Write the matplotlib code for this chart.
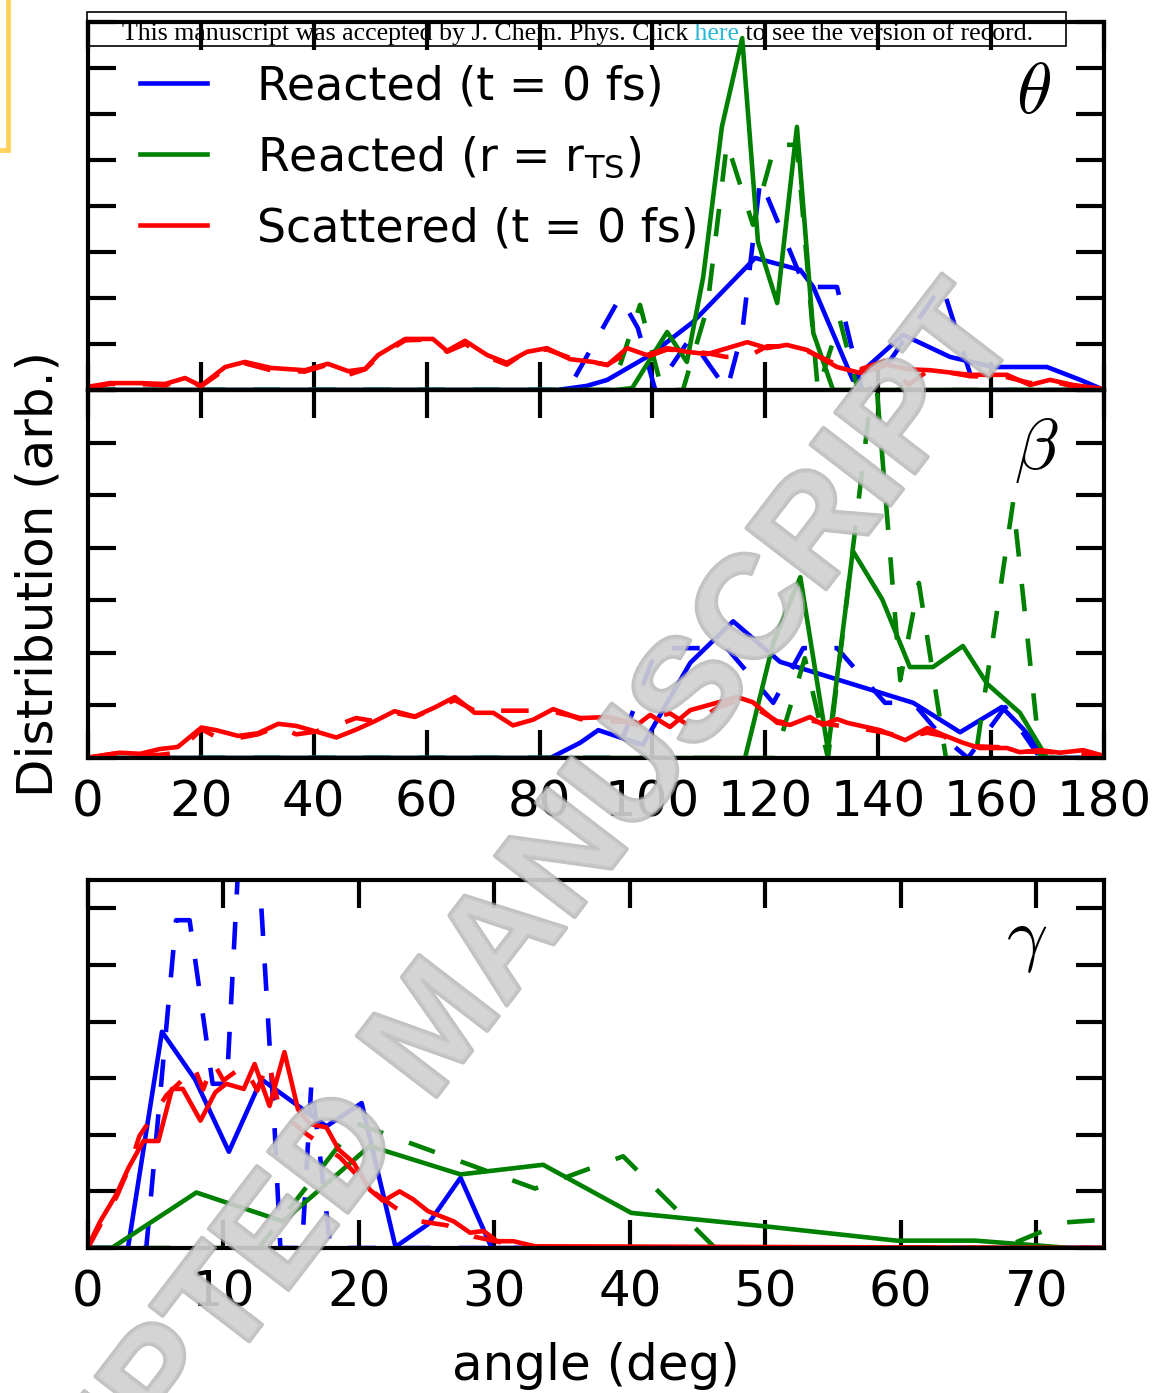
import matplotlib
matplotlib.use("Agg")
import matplotlib.pyplot as plt
import matplotlib.patheffects as pe
from matplotlib.patches import Rectangle
from matplotlib.ticker import MultipleLocator

# ==============================================================================
# DATA (x in degrees, y in arbitrary units)
# ==============================================================================

# --- theta panel ---
th_blue_x = [0, 83.1, 88.4, 92.0, 99.6, 107.2, 118.2, 126.2, 128.5, 135.5, 144.4, 152.7, 160.3, 169.9, 175.8, 180]
th_blue_y = [0, 0, 0.09, 0.22, 0.76, 1.48, 2.87, 2.61, 2.24, 0.22, 1.20, 0.72, 0.50, 0.50, 0.22, 0]
th_blue_d_x = [0, 85.0, 94.3, 97.4, 100.5, 106.7, 113.2, 115.9, 119.1, 127.0, 132.7, 137.1, 138.5, 151.3, 157.2, 180]
th_blue_d_y = [0, 0, 2.02, 1.35, 0, 1.13, 0, 1.26, 4.57, 2.24, 2.24, 0, 0, 2.28, 0, 0]
th_green_x = [0, 93.4, 96.4, 102.6, 106.1, 109.0, 112.3, 115.9, 118.7, 122.1, 125.6, 128.5, 132.0, 180]
th_green_y = [0, 0, 0.04, 1.26, 0.61, 2.46, 5.72, 7.65, 3.22, 1.89, 5.72, 1.24, 0, 0]
th_green_d_x = [0, 92.8, 97.8, 101.7, 105.4, 109.7, 113.2, 117.8, 121.7, 125.6, 129.3, 133.2, 136.4, 180]
th_green_d_y = [0, 0, 1.85, 0, 0, 1.78, 5.37, 3.59, 5.33, 5.33, 0, 1.52, 0, 0]
th_red_x = [0, 3.9, 9.4, 13.6, 17.2, 20.0, 24.3, 27.8, 32.4, 38.4, 42.5, 46.1, 49.1, 51.4, 56.2, 61.1,
            63.6, 66.8, 70.7, 74.2, 77.8, 81.3, 85.4, 89.5, 92.0, 95.5, 99.0, 102.6, 106.1, 109.7, 113.0,
            116.8, 120.3, 123.8, 127.4, 132.7, 136.8, 141.6, 145.3, 149.2, 156.3, 162.8, 166.9, 170.4,
            174.5, 180]
th_red_y = [0.07, 0.15, 0.15, 0.13, 0.26, 0.09, 0.50, 0.61, 0.48, 0.43, 0.57, 0.41, 0.46, 0.76, 1.11, 1.11,
            0.85, 1.07, 0.76, 0.59, 0.83, 0.91, 0.67, 0.61, 0.54, 0.91, 0.76, 0.91, 0.83, 0.78, 0.90,
            1.04, 0.91, 0.98, 0.87, 0.50, 0.37, 0.55, 0.45, 0.43, 0.33, 0.33, 0.11, 0.22,
            0.11, 0.02]
th_red_d_y = [0.05, 0.13, 0.13, 0.10, 0.24, 0.08, 0.45, 0.58, 0.43, 0.40, 0.55, 0.33, 0.45, 0.72, 1.08, 1.10,
              0.83, 1.00, 0.72, 0.55, 0.85, 0.88, 0.70, 0.60, 0.55, 0.80, 0.72, 0.88, 0.85, 0.80, 0.72,
              0.72, 0.95, 0.95, 0.85, 0.55, 0.45, 0.65, 0.11, 0.45, 0.30, 0.28, 0.15, 0.20,
              0.08, 0.02]

# --- beta panel ---
be_blue_x = [0, 81.9, 87.2, 90.4, 98.3, 106.7, 114.3, 122.6, 146.2, 154.5, 161.9, 165.7, 169.9, 180]
be_blue_y = [0, 0, 0.29, 0.53, 0.25, 1.81, 2.60, 1.83, 1.05, 0.49, 0.97, 0.55, 0, 0]
be_blue_d_x = [0, 93.4, 100.8, 113.2, 121.4, 126.7, 132.7, 141.2, 146.2, 151.0, 155.9, 162.5, 168.7, 180]
be_blue_d_y = [0, 0, 2.09, 2.09, 1.05, 2.09, 2.09, 1.05, 1.05, 0.44, 0, 0.97, 0, 0]
be_green_x = [0, 116.4, 121.4, 126.2, 131.1, 135.5, 140.7, 145.6, 149.7, 155.0, 159.3, 165.1, 169.9, 180]
be_green_y = [0, 0, 2.19, 3.44, 0.15, 3.94, 3.02, 1.73, 1.73, 2.13, 1.41, 0.86, 0, 0]
be_green_d_x = [0, 121.7, 127.0, 131.1, 139.4, 143.9, 147.2, 152.0, 157.2, 163.9, 168.7, 180]
be_green_d_y = [0, 0, 1.90, 0, 7.50, 1.48, 3.33, 0, 0, 4.87, 0, 0]
be_red_x = [0, 5.6, 9.2, 12.7, 15.9, 20.1, 22.7, 26.6, 30.1, 33.7, 36.9, 40.2, 44.0, 47.5, 50.8, 54.3,
            57.9, 61.4, 65.0, 68.5, 71.8, 75.3, 78.9, 82.4, 85.6, 87.2, 92.5, 97.3, 99.6, 103.1, 106.7,
            111.4, 115.0, 117.8, 122.1, 124.4, 127.9, 130.2, 132.7, 134.5, 140.3, 144.8, 148.7, 151.5,
            155.0, 158.0, 162.8, 165.1, 168.7, 172.2, 176.3, 180]
be_red_y = [0.01, 0.10, 0.08, 0.17, 0.21, 0.58, 0.53, 0.42, 0.47, 0.65, 0.61, 0.51, 0.39, 0.54, 0.70, 0.89,
            0.79, 0.96, 1.16, 0.86, 0.86, 0.62, 0.73, 0.93, 0.81, 0.76, 0.78, 0.63, 0.82, 0.59, 0.91,
            1.05, 1.16, 1.06, 0.67, 0.63, 0.78, 0.63, 0.74, 0.67, 0.53, 0.34, 0.57, 0.44,
            0.29, 0.19, 0.19, 0.11, 0.15, 0.10, 0.15, 0.04]
be_red_d_y = [0.0, 0.10, 0.05, 0.06, 0.10, 0.55, 0.40, 0.38, 0.45, 0.60, 0.45, 0.50, 0.62, 0.76, 0.70, 0.86,
              0.78, 0.95, 1.10, 0.90, 0.90, 0.90, 0.90, 0.88, 0.80, 0.74, 0.70, 0.68, 0.75, 0.85, 0.60,
              0.95, 1.10, 0.98, 0.70, 0.66, 0.72, 0.66, 0.62, 0.60, 0.50, 0.40, 0.48, 0.42,
              0.22, 0.22, 0.20, 0.12, 0.12, 0.10, 0.08, 0.03]

# --- gamma panel ---
ga_blue_x = [0, 2.95, 5.46, 7.9, 10.4, 12.8, 17.6, 20.2, 22.7, 25.1, 27.5, 29.8, 75]
ga_blue_y = [0, 0, 3.82, 2.98, 1.70, 2.98, 2.15, 2.56, 0.02, 0.42, 1.24, 0, 0]
ga_blue_d_x = [0, 4.3, 6.5, 7.5, 9.2, 10.25, 11.8, 13.8, 14.2, 15.8, 16.5, 17.9, 75]
ga_blue_d_y = [0, 0, 5.79, 5.79, 2.90, 2.90, 10.0, 2.00, 0, 0, 2.95, 0, 0]
ga_green_x = [0, 1.75, 8.0, 14.4, 20.8, 27.5, 33.6, 40.1, 50.1, 59.7, 65.5, 72.5, 75]
ga_green_y = [0, 0, 0.98, 0.47, 1.80, 1.30, 1.47, 0.62, 0.38, 0.13, 0.13, 0, 0]
ga_green_d_x = [0, 12.6, 19.8, 33.0, 39.5, 46.3, 67.5, 72.0, 75]
ga_green_d_y = [0, 0, 2.20, 1.05, 1.62, 0, 0, 0.45, 0.50]
ga_red_x = [0, 0.9, 2.1, 3.0, 4.1, 5.2, 6.2, 7.0, 8.3, 9.4, 10.2, 11.5, 12.3, 13.4, 14.5, 15.5, 16.4,
            17.6, 18.5, 19.6, 20.8, 21.8, 23.0, 24.0, 25.1, 27.0, 28.2, 29.2, 30.2, 31.4, 33.0, 75]
ga_red_y = [0.03, 0.47, 0.95, 1.42, 1.89, 1.89, 2.81, 2.81, 2.25, 2.75, 2.90, 2.81, 3.25, 2.51, 3.46, 2.45, 2.19,
            2.13, 1.74, 1.51, 1.03, 0.83, 1.00, 0.86, 0.65, 0.47, 0.27, 0.30, 0.12, 0.12, 0.03, 0]
ga_red_d_x = [0, 1.0, 2.1, 3.0, 3.8, 4.95, 5.8, 6.8, 7.8, 8.5, 9.25, 10.0, 11.5, 12.5, 13.3, 14.2, 15.2,
              16.2, 17.4, 18.6, 19.8, 21.0, 22.7, 24.6, 26.5, 28.5, 30.5, 33.0, 75]
ga_red_d_y = [0, 0.45, 0.90, 1.40, 1.98, 2.39, 2.70, 2.93, 3.22, 2.80, 3.28, 2.96, 3.22, 2.78, 3.30, 2.40, 2.20,
              2.00, 1.80, 1.60, 1.30, 1.00, 0.71, 0.47, 0.40, 0.20, 0.10, 0, 0]

LABELS = ["Reacted (t = 0 fs)", r"Reacted (r = r$_\mathrm{TS}$)", "Scattered (t = 0 fs)"]
COLORS = {"blue": "#0000ff", "green": "#008000", "red": "#ff0000"}
LW = 3.3
DASH = (6, 6)

# ==============================================================================
# FIGURE
# ==============================================================================

W, H = 1158, 1393
fig = plt.figure(figsize=(W / 100, H / 100), dpi=100)
fig.patch.set_facecolor("white")

left, width = 88 / W, (1104 - 88) / W
ax1 = fig.add_axes([left, 1 - 390 / H, width, 368 / H])
ax2 = fig.add_axes([left, 1 - 758 / H, width, 368 / H], sharex=ax1)
ax3 = fig.add_axes([left, 1 - 1248 / H, width, 368 / H])


def draw_panel(ax, bx, by, bdx, bdy, gx, gy, gdx, gdy, rx, ry, rdx, rdy):
    ax.plot(bx, by, color=COLORS["blue"], lw=LW)
    ax.plot(bdx, bdy, color=COLORS["blue"], lw=LW, dashes=DASH)
    ax.plot(gx, gy, color=COLORS["green"], lw=LW)
    ax.plot(gdx, gdy, color=COLORS["green"], lw=LW, dashes=DASH)
    ax.plot(rx, ry, color=COLORS["red"], lw=LW)
    ax.plot(rdx, rdy, color=COLORS["red"], lw=LW, dashes=DASH)


def style(ax):
    ax.set_facecolor("none")
    for s in ax.spines.values():
        s.set_linewidth(3)
    ax.tick_params(direction="in", length=20, width=3, top=True, right=True,
                   labelsize=36, pad=15)
    ax.yaxis.set_major_locator(MultipleLocator(1))
    ax.tick_params(axis="y", labelleft=False)


draw_panel(ax1, th_blue_x, th_blue_y, th_blue_d_x, th_blue_d_y,
           th_green_x, th_green_y, th_green_d_x, th_green_d_y,
           th_red_x, th_red_y, th_red_x, th_red_d_y)
draw_panel(ax2, be_blue_x, be_blue_y, be_blue_d_x, be_blue_d_y,
           be_green_x, be_green_y, be_green_d_x, be_green_d_y,
           be_red_x, be_red_y, be_red_x, be_red_d_y)
draw_panel(ax3, ga_blue_x, ga_blue_y, ga_blue_d_x, ga_blue_d_y,
           ga_green_x, ga_green_y, ga_green_d_x, ga_green_d_y,
           ga_red_x, ga_red_y, ga_red_d_x, ga_red_d_y)

for ax in (ax1, ax2, ax3):
    style(ax)

ax1.set_xlim(0, 180)
ax1.set_ylim(0, 8)
ax2.set_ylim(0, 7)
ax3.set_xlim(0, 75)
ax3.set_ylim(0, 6.5)
ax1.xaxis.set_major_locator(MultipleLocator(20))
ax3.xaxis.set_major_locator(MultipleLocator(10))
ax1.tick_params(axis="x", labelbottom=False)

ax2.set_ylabel("Distribution (arb.)", fontsize=36, labelpad=18)
ax3.set_xlabel("angle (deg)", fontsize=36, labelpad=18)

greek = [(ax1, r"$\theta$", 0.948, 0.90), (ax2, r"$\beta$", 0.955, 0.93),
         (ax3, r"$\gamma$", 0.944, 0.93)]
for ax, sym, gx, gy in greek:
    ax.text(gx, gy, sym, transform=ax.transAxes, ha="right", va="top",
            fontsize=52, math_fontfamily="cm")

handles = [plt.Line2D([], [], color=COLORS[c], lw=LW) for c in ("blue", "green", "red")]
ax1.legend(handles, LABELS, loc="upper left", bbox_to_anchor=(0.02, 0.973),
           frameon=False, fontsize=33, handlelength=1.45, handletextpad=1.1,
           labelspacing=0.56, borderaxespad=0.3, borderpad=0.4)

# header banner behind the axes
hy = 1 - 40 / H
HFS = 18.6
t1 = fig.text(122 / W, hy, "This manuscript was accepted by J. Chem. Phys. Click",
              family="Liberation Serif", fontsize=HFS, va="baseline", zorder=-1)
fig.canvas.draw()
r = fig.canvas.get_renderer()
x1 = t1.get_window_extent(r).x1 / W
t2 = fig.text(x1, hy, " here", family="Liberation Serif", fontsize=HFS,
              color="#2ab7d6", va="baseline", zorder=-1)
fig.canvas.draw()
x2 = t2.get_window_extent(r).x1 / W
fig.text(x2, hy, " to see the version of record.", family="Liberation Serif",
         fontsize=HFS, va="baseline", zorder=-1)
fig.add_artist(Rectangle((87 / W, 1 - 46 / H), (1066 - 87) / W, 34 / H,
                         transform=fig.transFigure, fill=False, lw=1.2,
                         edgecolor="black", zorder=-1))

# yellow frame corner at the top left
fig.add_artist(Rectangle((-0.05, 1 - 150 / H), 0.05 + 8 / W, 0.2,
                         transform=fig.transFigure, fill=False, lw=3.5,
                         edgecolor="#ffd35c", clip_on=False))

# watermark
fig.text(440 / W, 1 - 1030 / H, "ACCEPTED MANUSCRIPT", rotation=52.5,
         rotation_mode="anchor", ha="center", va="center", fontsize=105,
         fontweight="bold", family="Liberation Sans", color="#d0d0d0",
         alpha=0.7, zorder=10,
         path_effects=[pe.withStroke(linewidth=3, foreground="#a8a8a8")])

fig.savefig("out.png", dpi=100)
